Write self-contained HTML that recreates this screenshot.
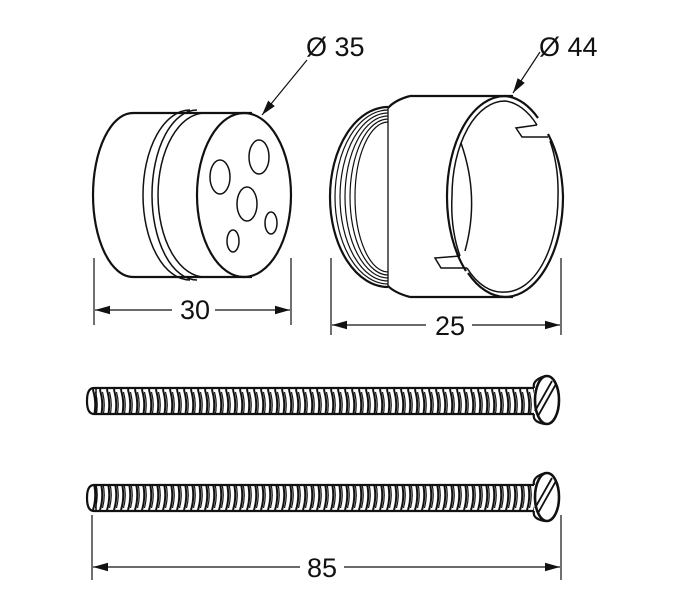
<!DOCTYPE html>
<html><head><meta charset="utf-8"><style>
html,body{margin:0;padding:0;background:#fff;}
svg{display:block;}
text{font-family:"Liberation Sans",sans-serif;fill:#111;}
</style></head><body>
<svg width="677" height="600" viewBox="0 0 677 600" xmlns="http://www.w3.org/2000/svg">
<defs>
<marker id="ar" viewBox="0 0 14 8" refX="14" refY="4" markerWidth="15" markerHeight="9" orient="auto" markerUnits="userSpaceOnUse">
<path d="M0,0 L14,4 L0,8 Z" fill="#111"/></marker>
<pattern id="thr" x="0" y="0" width="7" height="30" patternUnits="userSpaceOnUse">
<path d="M2,0 Q6.5,15 2,30" fill="none" stroke="#111" stroke-width="2"/>
<path d="M4.5,2 Q8,15 4.5,28" fill="none" stroke="#111" stroke-width="1.2"/>
</pattern>
</defs>
<g fill="none" stroke="#111" stroke-width="2.2">
<!-- left part -->
<path d="M133,113 A40,82 0 0 0 133,277"/>
<line x1="133" y1="113" x2="252" y2="113"/>
<line x1="133" y1="277" x2="252" y2="277"/>
<path d="M190,110 A47,85 0 0 0 190,280" stroke-width="1.5"/>
<path d="M197,110 A45,85 0 0 0 197,280" stroke-width="1.5"/>
<path d="M205,113 A47,82 0 0 0 205,277" stroke-width="1.5"/>
<ellipse cx="244" cy="195" rx="47" ry="82"/>
<ellipse cx="220" cy="177" rx="10" ry="17" stroke-width="1.5"/>
<ellipse cx="259" cy="157" rx="10" ry="17" stroke-width="1.5"/>
<ellipse cx="247" cy="204" rx="10" ry="17" stroke-width="1.5"/>
<ellipse cx="271" cy="223" rx="6" ry="11" stroke-width="1.5"/>
<ellipse cx="233" cy="241" rx="6" ry="11" stroke-width="1.5"/>
<!-- right part threads -->
<path d="M388,107 A58,90 0 0 0 388,287"/>
<path d="M388,110 A53,87 0 0 0 388,284" stroke-width="1.2"/>
<path d="M388,113 A48,84 0 0 0 388,281" stroke-width="1.2"/>
<path d="M388,116 A43,81 0 0 0 388,278" stroke-width="1.2"/>
<path d="M388,119 A38,78 0 0 0 388,275" stroke-width="1.2"/>
<path d="M388,122 A33,75 0 0 0 388,272" stroke-width="1.2"/>
<path d="M388,107 L388,287" stroke-width="1.3"/>
<path d="M410,96 Q395,100 388,108"/>
<path d="M410,297 Q395,293 388,286"/>
<line x1="410" y1="96" x2="513" y2="96"/>
<line x1="410" y1="297" x2="513" y2="297"/>
<!-- front ring -->
<path d="M538,118 A58,100 0 0 0 505,96 A58,100 0 0 0 447,196 A58,100 0 0 0 466,271"/>
<path d="M537,125 A53,95 0 0 0 505,101 A53,95 0 0 0 452,196 A53,95 0 0 0 460,256" stroke-width="1.5"/>
<path d="M548,134 A58,100 0 0 1 563,196 A58,100 0 0 1 505,297 A58,100 0 0 1 468,273"/>
<path d="M550,141 A53,95 0 0 1 558,196 A53,95 0 0 1 505,292 A53,95 0 0 1 467,268" stroke-width="1.5"/>
<path d="M537,125 L516,128 L522,137 L548,137" stroke-width="1.5"/>
<path d="M460,256 L435,258 L441,268 L467,268" stroke-width="1.5"/>
<path d="M461,143 Q480,197 465,251" stroke-width="1.5"/>
<!-- dimension lines -->
<line x1="94" y1="258" x2="94" y2="325" stroke-width="1.2"/>
<line x1="291" y1="258" x2="291" y2="325" stroke-width="1.2"/>
<line x1="172" y1="310" x2="95" y2="310" stroke-width="1.2" marker-end="url(#ar)"/>
<line x1="215" y1="310" x2="290" y2="310" stroke-width="1.2" marker-end="url(#ar)"/>
<line x1="331" y1="258" x2="331" y2="335" stroke-width="1.2"/>
<line x1="561" y1="258" x2="561" y2="335" stroke-width="1.2"/>
<line x1="426" y1="325" x2="332" y2="325" stroke-width="1.2" marker-end="url(#ar)"/>
<line x1="472" y1="325" x2="560" y2="325" stroke-width="1.2" marker-end="url(#ar)"/>
<line x1="307" y1="60" x2="262" y2="115" stroke-width="1.2" marker-end="url(#ar)"/>
<line x1="540" y1="52" x2="513" y2="93" stroke-width="1.2" marker-end="url(#ar)"/>
<line x1="92" y1="515" x2="92" y2="580" stroke-width="1.2"/>
<line x1="561" y1="515" x2="561" y2="580" stroke-width="1.2"/>
<line x1="300" y1="567" x2="93" y2="567" stroke-width="1.2" marker-end="url(#ar)"/>
<line x1="344" y1="567" x2="560" y2="567" stroke-width="1.2" marker-end="url(#ar)"/>
</g>
<!-- screws -->
<g stroke="#111" stroke-width="2.2">
<rect x="92" y="387" width="442" height="28" fill="url(#thr)" stroke="none"/>
<path d="M94,388 L534,388 M94,414 L534,414" fill="none"/>
<path d="M94,388 Q87,388 87,401 Q87,414 94,414" fill="none"/>
<line x1="96" y1="389" x2="96" y2="413" stroke-width="1.5"/>
<path d="M534,388 Q532,380 545,376 A12,24 0 1 1 545,424 Q532,422 534,414" fill="#fff"/>
<ellipse cx="547" cy="400" rx="12" ry="24" fill="#fff" stroke-width="2.6"/>
<path d="M556,384 L538,416 M552,381 L535,411" fill="none" stroke-width="1.8"/>

<rect x="92" y="484" width="442" height="28" fill="url(#thr)" stroke="none"/>
<path d="M94,485 L534,485 M94,511 L534,511" fill="none"/>
<path d="M94,485 Q87,485 87,498 Q87,511 94,511" fill="none"/>
<line x1="96" y1="486" x2="96" y2="510" stroke-width="1.5"/>
<path d="M534,485 Q532,477 545,473 A12,24 0 1 1 545,521 Q532,519 534,511" fill="#fff"/>
<ellipse cx="547" cy="497" rx="12" ry="24" fill="#fff" stroke-width="2.6"/>
<path d="M556,481 L538,513 M552,478 L535,508" fill="none" stroke-width="1.8"/>
</g>
<g font-size="27">
<text x="306" y="56">Ø 35</text>
<text x="539" y="56">Ø 44</text>
<text x="195" y="319" text-anchor="middle">30</text>
<text x="450" y="335" text-anchor="middle">25</text>
<text x="322" y="577" text-anchor="middle">85</text>
</g>
</svg>
</body></html>
